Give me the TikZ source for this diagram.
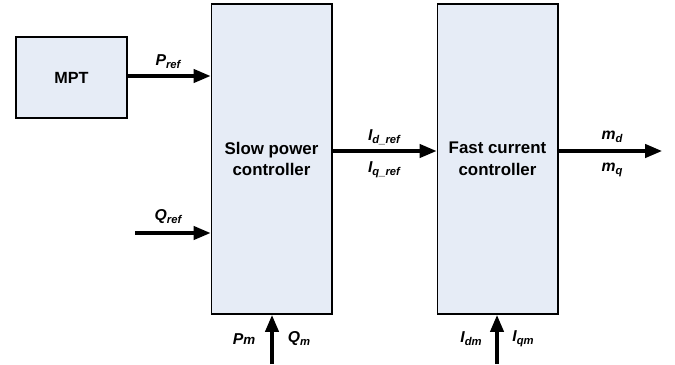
\documentclass[tikz,border=0pt]{standalone}
\usepackage{fontspec}
\setmainfont{Liberation Sans}
\usepackage{xcolor}
\usetikzlibrary{arrows.meta}
\definecolor{blockfill}{RGB}{230,236,246}
\newcommand{\sig}[2]{{\bfseries\itshape #1\raisebox{-0.35ex}{\fontsize{8}{9}\selectfont #2}}}
\tikzset{
  blocknode/.style={rectangle,draw=black,line width=1.4pt,fill=blockfill,
    align=center,inner sep=1pt,font=\fontsize{12}{15.5}\selectfont\bfseries},
  signaledge/.style={line width=2.2pt,-{Triangle[length=12pt,width=9.5pt]}},
  labelnode/.style={inner sep=1pt,font=\fontsize{11.2}{13}\selectfont}
}

\begin{document}
\begin{tikzpicture}[x=0.025cm,y=-0.025cm]
  \useasboundingbox (0,0) rectangle (675,364);
  \node[blocknode,minimum width=2.775cm,minimum height=2.025cm,font=\fontsize{11.5}{14}\selectfont\bfseries] (mpt) at (71.5,77.5) {MPT};
  \node[blocknode,minimum width=3.0cm,minimum height=7.75cm] (slow) at (271.5,159) {Slow power\\controller};
  \node[blocknode,minimum width=3.0cm,minimum height=7.75cm] (fast) at (497.5,159) {Fast current\\controller};

  \coordinate (qin) at (135,233);
  \coordinate (mid) at (332,151);
  \coordinate (out) at (662,151);
  \coordinate (pqin) at (272,364);
  \coordinate (iin) at (497,364);

  \draw[signaledge] (mpt.east |- 0,76) -- (slow.west |- 0,76);
  \draw[signaledge] (qin) -- (qin -| slow.west);
  \draw[signaledge] (mid) -- (mid -| fast.west);
  \draw[signaledge] (fast.east |- out) -- (out);
  \draw[signaledge] (pqin) -- (pqin |- slow.south);
  \draw[signaledge] (iin) -- (iin |- fast.south);

  \node[labelnode] (pref) at (168,62) {\sig{P}{ref}};
  \node[labelnode] (qref) at (168,217) {\sig{Q}{ref}};
  \node[labelnode] (idref) at (384,137) {\sig{I}{d\_ref}};
  \node[labelnode] (iqref) at (384,170) {\sig{I}{q\_ref}};
  \node[labelnode] (md) at (612,137) {\sig{m}{d}};
  \node[labelnode] (mq) at (612,170) {\sig{m}{q}};
  \node[labelnode] (pm) at (244,339) {{\bfseries\itshape P\fontsize{9.5}{10}\selectfont m}};
  \node[labelnode] (qm) at (299,339) {\sig{Q}{m}};
  \node[labelnode] (idm) at (471,339) {\sig{I}{dm}};
  \node[labelnode] (iqm) at (523,339) {\sig{I}{qm}};
\end{tikzpicture}
\end{document}
